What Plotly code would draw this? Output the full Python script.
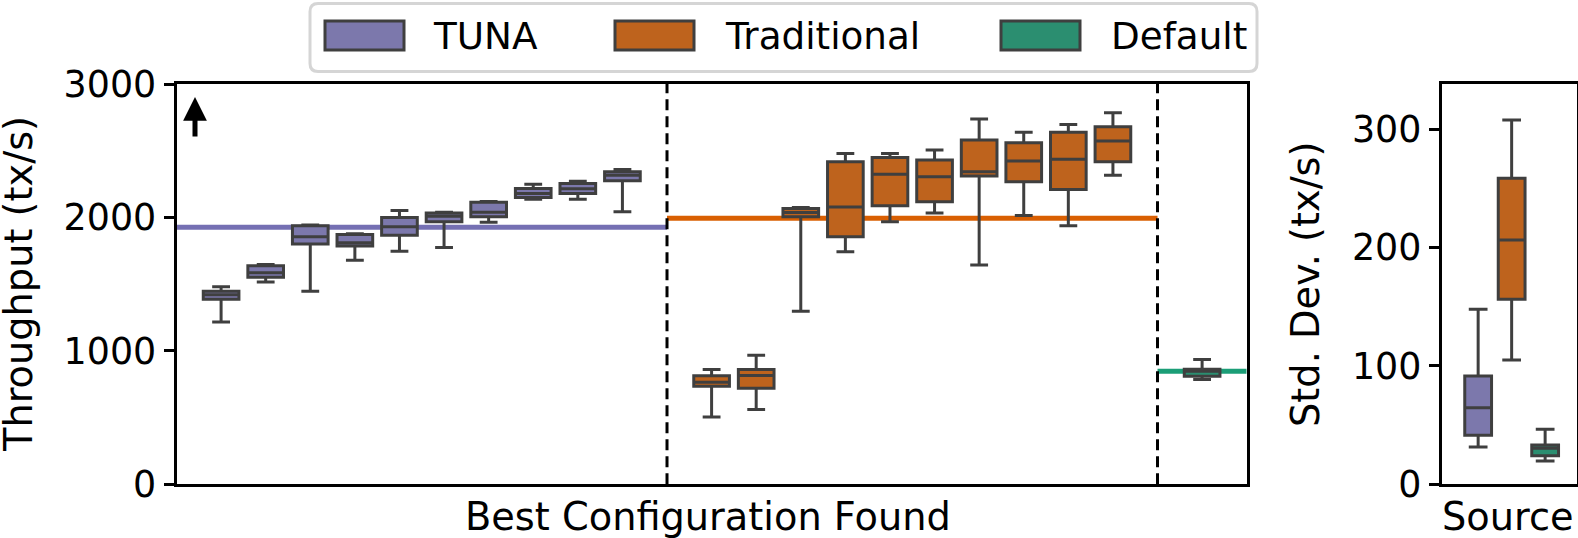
import plotly.graph_objects as go

W, H = 1578, 538

# ---------------- data ----------------
tuna_pos = [1, 2, 3, 4, 5, 6, 7, 8, 9, 10]
tuna_q1 = [1387, 1551, 1800, 1785, 1867, 1967, 2005, 2150, 2180, 2275]
tuna_med = [1420, 1586, 1855, 1810, 1930, 2009, 2039, 2180, 2215, 2317]
tuna_q3 = [1447, 1637, 1938, 1872, 2000, 2034, 2113, 2217, 2255, 2342]
tuna_lo = [1217, 1517, 1447, 1680, 1747, 1774, 1963, 2137, 2137, 2042]
tuna_hi = [1480, 1647, 1944, 1878, 2052, 2039, 2120, 2248, 2272, 2360]

trad_pos = [12, 13, 14, 15, 16, 17, 18, 19, 20, 21]
trad_q1 = [735, 720, 2005, 1855, 2087, 2117, 2310, 2268, 2210, 2417]
trad_med = [765, 816, 2037, 2079, 2323, 2305, 2342, 2423, 2436, 2573]
trad_q3 = [814, 860, 2067, 2417, 2450, 2430, 2580, 2560, 2638, 2680]
trad_lo = [504, 560, 1297, 1742, 1967, 2034, 1643, 2015, 1938, 2317]
trad_hi = [860, 967, 2074, 2480, 2480, 2505, 2738, 2638, 2697, 2785]

def_pos = [23]
def_q1 = [809]
def_med = [847]
def_q3 = [863]
def_lo = [785]
def_hi = [935]

ref_tuna = 1927
ref_trad = 1993
ref_default = 847

sources = ["TUNA", "Traditional", "Default"]
sd_pos = [-0.25, 0.0, 0.25]
sd_q1 = [41.4, 156.2, 24.2]
sd_med = [64.7, 206.3, 30.4]
sd_q3 = [91.5, 258.4, 33.2]
sd_lo = [31.5, 105.0, 19.7]
sd_hi = [147.8, 307.7, 46.4]

left_yticks = [0, 1000, 2000, 3000]
right_yticks = [0, 100, 200, 300]

# ---------------- style ----------------
FONT = "DejaVu Sans"
EDGE = "#3f3f3f"
FILL = {"TUNA": "#7c78ac", "Traditional": "#be631d", "Default": "#2b8e70"}
LINE = {"TUNA": "#7570b3", "Traditional": "#d95f02", "Default": "#1b9e77"}

def px(x):
    return x / W

def py(y):
    return 1 - y / H

fig = go.Figure()

def add_boxes(xs, q1, med, q3, lo, hi, fill, xa, ya, width, ww):
    fig.add_trace(go.Box(
        x=xs, q1=q1, median=med, q3=q3, lowerfence=lo, upperfence=hi,
        fillcolor=fill, line=dict(color=EDGE, width=3), width=width,
        whiskerwidth=ww, boxpoints=False, xaxis=xa, yaxis=ya,
        showlegend=False, hoverinfo="skip"))

add_boxes(tuna_pos, tuna_q1, tuna_med, tuna_q3, tuna_lo, tuna_hi, FILL["TUNA"], "x", "y", 0.8, 0.5)
add_boxes(trad_pos, trad_q1, trad_med, trad_q3, trad_lo, trad_hi, FILL["Traditional"], "x", "y", 0.8, 0.5)
add_boxes(def_pos, def_q1, def_med, def_q3, def_lo, def_hi, FILL["Default"], "x", "y", 0.8, 0.5)

for i, s in enumerate(sources):
    add_boxes([sd_pos[i]], [sd_q1[i]], [sd_med[i]], [sd_q3[i]], [sd_lo[i]], [sd_hi[i]],
              FILL[s], "x2", "y2", 0.2, 0.7)

shapes = []
# reference lines
for x0, x1, v, s in [(0, 11, ref_tuna, "TUNA"), (11, 22, ref_trad, "Traditional"),
                     (22, 24, ref_default, "Default")]:
    shapes.append(dict(type="line", xref="x", yref="y", x0=x0, x1=x1, y0=v, y1=v,
                       line=dict(color=LINE[s], width=5), layer="below"))
# separators
for xv in [11, 22]:
    shapes.append(dict(type="line", xref="x", yref="y domain", x0=xv, x1=xv, y0=0, y1=1,
                       line=dict(color="black", width=3, dash="11px,6px")))

# legend frame (rounded)
lx0, lx1, ly0, ly1, r = 310, 1257, 3.5, 71.5, 8
rx, ry = r / W, r / H
X0, X1, Y0, Y1 = px(lx0), px(lx1), py(ly1), py(ly0)
path = (f"M{X0+rx},{Y0} L{X1-rx},{Y0} Q{X1},{Y0} {X1},{Y0+ry} "
        f"L{X1},{Y1-ry} Q{X1},{Y1} {X1-rx},{Y1} L{X0+rx},{Y1} Q{X0},{Y1} {X0},{Y1-ry} "
        f"L{X0},{Y0+ry} Q{X0},{Y0} {X0+rx},{Y0} Z")
shapes.append(dict(type="path", xref="paper", yref="paper", path=path,
                   fillcolor="rgba(255,255,255,0.8)", line=dict(color="#d5d5d5", width=3)))

legend_items = [("TUNA", 325, 433), ("Traditional", 615, 725), ("Default", 1001, 1111)]
annotations = []
for name, patch_x, text_x in legend_items:
    shapes.append(dict(type="rect", xref="paper", yref="paper",
                       x0=px(patch_x), x1=px(patch_x + 79), y0=py(50), y1=py(21),
                       fillcolor=FILL[name], line=dict(color=EDGE, width=3)))
    annotations.append(dict(xref="paper", yref="paper", x=px(text_x - 2), y=py(36),
                            xanchor="left", yanchor="middle", text=name, showarrow=False,
                            font=dict(family=FONT, size=37.3, color="black")))

TITLE_SIZE = 38.3
annotations += [
    dict(xref="paper", yref="paper", x=px(708), y=py(516), text="Best Configuration Found",
         showarrow=False, xanchor="center", yanchor="middle",
         font=dict(family=FONT, size=TITLE_SIZE, color="black")),
    dict(xref="paper", yref="paper", x=px(1508), y=py(516), text="Source",
         showarrow=False, xanchor="center", yanchor="middle",
         font=dict(family=FONT, size=TITLE_SIZE, color="black")),
    dict(xref="paper", yref="paper", x=px(18), y=py(284), text="Throughput (tx/s)",
         showarrow=False, textangle=-90, xanchor="center", yanchor="middle",
         font=dict(family=FONT, size=TITLE_SIZE, color="black")),
    dict(xref="paper", yref="paper", x=px(1305), y=py(284), text="Std. Dev. (tx/s)",
         showarrow=False, textangle=-90, xanchor="center", yanchor="middle",
         font=dict(family=FONT, size=TITLE_SIZE, color="black")),
    # "higher is better" arrow
    dict(xref="paper", yref="paper", x=px(195), y=py(97), ax=0, ay=41, text="",
         showarrow=True, arrowhead=2, arrowsize=0.95, arrowwidth=5, arrowcolor="black"),
]

ydom = [py(484.3), py(84)]
axis_common = dict(showline=True, linewidth=3, linecolor="black", mirror=True,
                   showgrid=False, zeroline=False, automargin=False)

fig.update_layout(
    width=W, height=H,
    margin=dict(l=0, r=0, t=0, b=0, autoexpand=False),
    paper_bgcolor="white", plot_bgcolor="white",
    font=dict(family=FONT, size=36, color="black"),
    showlegend=False,
    boxmode="overlay",
    xaxis=dict(domain=[px(176.5), px(1246.7)], range=[0, 24], showticklabels=False,
               ticks="", anchor="y", **axis_common),
    yaxis=dict(domain=ydom, range=[0, 3000], tickvals=left_yticks,
               ticks="outside", ticklen=10, tickwidth=3, tickcolor="black",
               tickfont=dict(family=FONT, size=36.4, color="black"), anchor="x",
               **axis_common),
    xaxis2=dict(domain=[px(1441.7), px(1576.5)], range=[-0.522, 0.484], showticklabels=False,
                ticks="", anchor="y2", **axis_common),
    yaxis2=dict(domain=ydom, range=[0, 338], tickvals=right_yticks,
                ticks="outside", ticklen=10, tickwidth=3, tickcolor="black",
                tickfont=dict(family=FONT, size=36.4, color="black"), anchor="x2",
                **axis_common),
    shapes=shapes,
    annotations=annotations,
)

fig.write_html("out.html", config={"displayModeBar": False},
               post_script="document.body.style.margin='0';document.body.style.overflow='hidden';")
